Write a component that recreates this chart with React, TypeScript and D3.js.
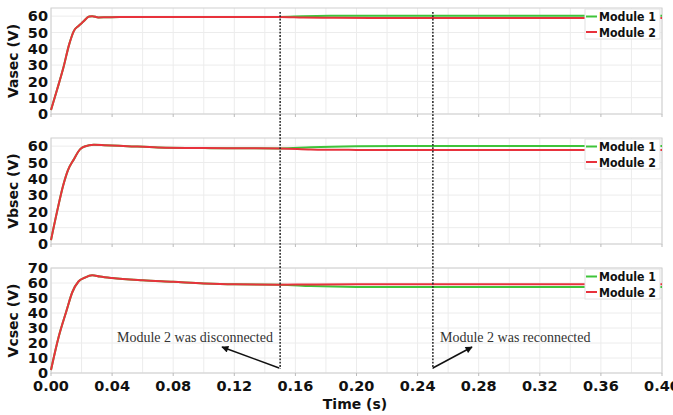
import React from "react";
import * as d3 from "d3";

// ---------- data ----------
const xTicks = [0, 0.04, 0.08, 0.12, 0.16, 0.2, 0.24, 0.28, 0.32, 0.36, 0.4];
const seriesNames = ["Module 1", "Module 2"];
const panelLabels = ["Vasec (V)", "Vbsec (V)", "Vcsec (V)"];
const panelYMax = [65, 65, 70];
const panelYTicks = [
  [0, 10, 20, 30, 40, 50, 60],
  [0, 10, 20, 30, 40, 50, 60],
  [0, 10, 20, 30, 40, 50, 60, 70],
];
const eventTimes = [0.15, 0.25];
const eventLabels = ["Module 2 was disconnected", "Module 2 was reconnected"];

// common start-up transient (both modules identical before t = 0.15 s)
const aCommon: [number, number][] = [
  [0, 2.4], [0.004, 15], [0.008, 28], [0.012, 43], [0.015, 51], [0.018, 54],
  [0.021, 56.5], [0.025, 59.8], [0.027, 60], [0.031, 59.2], [0.036, 59.3],
  [0.045, 59.5], [0.1, 59.5], [0.15, 59.5],
];
const aModule1Tail: [number, number][] = [[0.165, 59.9], [0.185, 60.2], [0.21, 60.3], [0.4, 60.3]];
const aModule2Tail: [number, number][] = [[0.165, 59.2], [0.185, 59.0], [0.21, 58.9], [0.4, 58.9]];

const bCommon: [number, number][] = [
  [0, 2.4], [0.004, 20], [0.008, 36], [0.011, 45], [0.015, 52], [0.019, 58],
  [0.022, 59.8], [0.028, 60.8], [0.035, 60.6], [0.05, 60], [0.07, 59.2],
  [0.1, 58.8], [0.15, 58.6],
];
const bModule1Tail: [number, number][] = [[0.17, 59.3], [0.2, 59.9], [0.23, 60.1], [0.4, 60.1]];
const bModule2Tail: [number, number][] = [[0.17, 58.0], [0.2, 57.7], [0.23, 57.6], [0.4, 57.6]];

const cCommon: [number, number][] = [
  [0, 2], [0.005, 24], [0.01, 41], [0.014, 54], [0.018, 61], [0.022, 63.5],
  [0.027, 65.2], [0.032, 64.3], [0.04, 63.3], [0.06, 61.8], [0.08, 60.8],
  [0.1, 59.7], [0.12, 59.1], [0.15, 58.9],
];
const cModule1Tail: [number, number][] = [[0.17, 58.0], [0.2, 57.4], [0.23, 57.3], [0.4, 57.3]];
const cModule2Tail: [number, number][] = [[0.17, 59.0], [0.2, 59.1], [0.23, 59.1], [0.4, 59.1]];

const panelSeries = [
  [aCommon.concat(aModule1Tail), aCommon.concat(aModule2Tail)],
  [bCommon.concat(bModule1Tail), bCommon.concat(bModule2Tail)],
  [cCommon.concat(cModule1Tail), cCommon.concat(cModule2Tail)],
];

// ---------- layout ----------
const W = 673, H = 415;
const left = 51, right = 662;
const panels = [
  { top: 8, bottom: 114 },
  { top: 138, bottom: 244 },
  { top: 268, bottom: 373 },
];
const colors = ["#3ec43a", "#e8323c"];
const boldFont = "'DejaVu Sans', Verdana, sans-serif";
const serifFont = "'Liberation Serif', 'Times New Roman', serif";

export default function App() {
  const x = d3.scaleLinear().domain([0, 0.4]).range([left, right]);
  const minorX = d3.range(0, 0.4001, 0.02);

  return (
    <svg width={W} height={H} style={{ position: "absolute", left: 0, top: 0, background: "#fff" }}>
      <defs>
        <marker id="arr" viewBox="0 0 10 10" refX="9" refY="5" markerWidth="10" markerHeight="7" orient="auto" markerUnits="userSpaceOnUse">
          <path d="M0,0 L10,5 L0,10 z" fill="#111" />
        </marker>
      </defs>
      {panels.map((p, i) => {
        const y = d3.scaleLinear().domain([0, panelYMax[i]]).range([p.bottom, p.top]);
        const gridY = d3.range(0, panelYMax[i] + 0.01, 10);
        const line = d3
          .line<[number, number]>()
          .x((d) => x(d[0]))
          .y((d) => y(d[1]))
          .curve(d3.curveMonotoneX);
        const lgTop = p.top + 1;
        return (
          <g key={i}>
            {minorX.map((t) => (
              <line key={"gx" + t} x1={x(t)} x2={x(t)} y1={p.top} y2={p.bottom} stroke="#ececec" strokeWidth={1} />
            ))}
            {gridY.map((v) => (
              <line key={"gy" + v} x1={left} x2={right} y1={y(v)} y2={y(v)} stroke="#ececec" strokeWidth={1} />
            ))}
            <rect x={left} y={p.top} width={right - left} height={p.bottom - p.top} fill="none" stroke="#cfcfcf" strokeWidth={1} />
            {xTicks.map((t) => (
              <line key={"tk" + t} x1={x(t)} x2={x(t)} y1={p.bottom} y2={p.bottom + 3} stroke="#bbb" />
            ))}
            {panelYTicks[i].map((v) => (
              <text key={"yl" + v} x={48} y={y(v)} dy="0.36em" textAnchor="end" fontFamily={boldFont} fontWeight="bold" fontSize={14.5} fill="#111">
                {v}
              </text>
            ))}
            <text
              transform={`translate(17.5,${(p.top + p.bottom) / 2}) rotate(-90)`}
              textAnchor="middle"
              fontFamily={boldFont}
              fontWeight="bold"
              fontSize={14}
              fill="#111"
            >
              {panelLabels[i]}
            </text>
            {panelSeries[i].map((s, k) => (
              <path key={"s" + k} d={line(s) || ""} fill="none" stroke={colors[k]} strokeWidth={2} />
            ))}
            <rect x={585} y={lgTop} width={75} height={30} fill="#fff" stroke="#e2e2e2" />
            {seriesNames.map((n, k) => (
              <g key={n}>
                <line x1={586} x2={597} y1={lgTop + 7.5 + k * 15.5} y2={lgTop + 7.5 + k * 15.5} stroke={colors[k]} strokeWidth={2} />
                <text x={599} y={lgTop + 7.5 + k * 15.5} dy="0.38em" fontFamily={boldFont} fontWeight="bold" fontSize={12.5} fill="#111" textLength={57} lengthAdjust="spacingAndGlyphs">
                  {n}
                </text>
              </g>
            ))}
          </g>
        );
      })}
      {xTicks.map((t) => (
        <text key={"xl" + t} x={x(t)} y={391} textAnchor="middle" fontFamily={boldFont} fontWeight="bold" fontSize={14.5} fill="#111">
          {t.toFixed(2)}
        </text>
      ))}
      <text x={355} y={409} textAnchor="middle" fontFamily={boldFont} fontWeight="bold" fontSize={14} fill="#111">
        Time (s)
      </text>
      {eventTimes.map((t) => (
        <line key={"ev" + t} x1={x(t)} x2={x(t)} y1={12} y2={369} stroke="#222" strokeWidth={1.5} strokeDasharray="1.8,1.5" />
      ))}
      {/* annotations */}
      <text x={117} y={342} fontFamily={serifFont} fontSize={14} fill="#333">
        {eventLabels[0]}
      </text>
      <line x1={x(eventTimes[0]) - 1} y1={368} x2={222} y2={347} stroke="#111" strokeWidth={1.5} markerEnd="url(#arr)" />
      <text x={440} y={342} fontFamily={serifFont} fontSize={14} fill="#333">
        {eventLabels[1]}
      </text>
      <line x1={x(eventTimes[1])} y1={368} x2={472} y2={347} stroke="#111" strokeWidth={1.5} markerEnd="url(#arr)" />
    </svg>
  );
}
